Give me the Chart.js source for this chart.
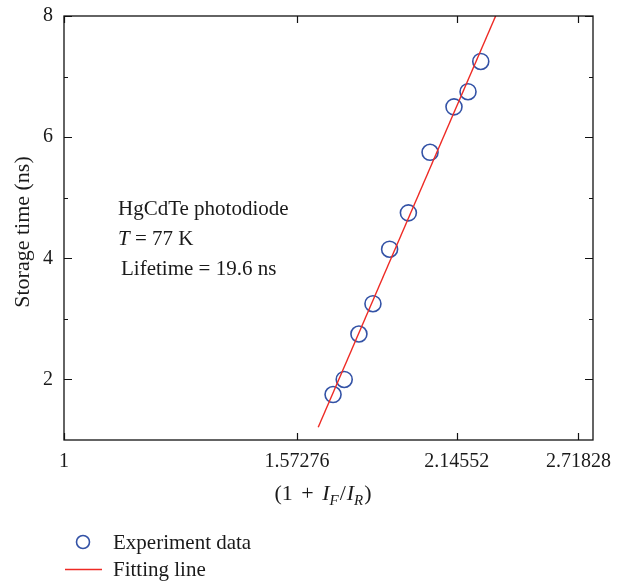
<!DOCTYPE html>
<html>
<head>
<meta charset="utf-8">
<script src="https://cdn.jsdelivr.net/npm/chart.js@4.4.1/dist/chart.umd.min.js"></script>
<style>
html,body{margin:0;padding:0;background:#fff;}
#wrap{width:626px;height:581px;position:relative;}
</style>
</head>
<body>
<div id="wrap"><canvas id="c" width="626" height="581"></canvas></div>
<script>
// ---- data ----
const expX = [1.687, 1.724, 1.774, 1.823, 1.883, 1.953, 2.037, 2.134, 2.193, 2.248];
const expY = [1.75, 2.0, 2.75, 3.25, 4.15, 4.75, 5.75, 6.5, 6.75, 7.25];
const fitX = [1.639, 2.314];
const fitY = [1.21, 8.0];
const xTicks = [1, 1.57276, 2.14552, 2.71828];
const xTickLabels = ['1', '1.57276', '2.14552', '2.71828'];
const yTicks = [2, 4, 6, 8];
const yMinorTicks = [3, 5, 7];
const annotationLines = ['HgCdTe photodiode', 'T = 77 K', 'Lifetime = 19.6 ns'];
const legendLabels = ['Experiment data', 'Fitting line'];

const SERIF = '"Liberation Serif", "DejaVu Serif", serif';
const BLUE = '#3352a6';
const RED = '#ee2a24';

const framePlugin = {
  id: 'frame',
  afterDatasetsDraw(chart) {
    const ctx = chart.ctx;
    const a = chart.chartArea;
    const xs = chart.scales.x, ys = chart.scales.y;
    ctx.save();
    ctx.strokeStyle = '#111';
    ctx.lineWidth = 1.3;
    ctx.strokeRect(a.left, a.top, a.right - a.left, a.bottom - a.top);
    ctx.lineWidth = 1.2;
    ctx.beginPath();
    xTicks.forEach(v => {
      const px = Math.round(xs.getPixelForValue(v)) + 0.5;
      ctx.moveTo(px, a.bottom); ctx.lineTo(px, a.bottom - 7);
      ctx.moveTo(px, a.top); ctx.lineTo(px, a.top + 7);
    });
    yTicks.forEach(v => {
      const py = Math.round(ys.getPixelForValue(v)) + 0.5;
      ctx.moveTo(a.left, py); ctx.lineTo(a.left + 8, py);
      ctx.moveTo(a.right, py); ctx.lineTo(a.right - 8, py);
    });
    yMinorTicks.forEach(v => {
      const py = Math.round(ys.getPixelForValue(v)) + 0.5;
      ctx.moveTo(a.left, py); ctx.lineTo(a.left + 4, py);
      ctx.moveTo(a.right, py); ctx.lineTo(a.right - 4, py);
    });
    ctx.stroke();
    ctx.restore();
  },
  afterDraw(chart) {
    const ctx = chart.ctx;
    ctx.save();
    ctx.fillStyle = '#1a1a1a';
    ctx.textBaseline = 'alphabetic';
    // y-axis title
    ctx.save();
    ctx.translate(29, 232);
    ctx.rotate(-Math.PI / 2);
    ctx.font = '22px ' + SERIF;
    ctx.textAlign = 'center';
    ctx.fillText('Storage time (ns)', 0, 0);
    ctx.restore();
    // x-axis title: (1 + I_F/I_R)
    const parts = [
      ['(1', '22px ' + SERIF, 0, 3],
      ['+', '22px ' + SERIF, 0, 3],
      ['I', 'italic 22px ' + SERIF, 0, 0],
      ['F', 'italic 15px ' + SERIF, 5, 1],
      ['/', '22px ' + SERIF, 0, 1],
      ['I', 'italic 22px ' + SERIF, 0, 0],
      ['R', 'italic 15px ' + SERIF, 5, 1],
      [')', '22px ' + SERIF, 0, 0]
    ];
    let total = 0;
    parts.forEach((p, i) => {
      ctx.font = p[1];
      total += ctx.measureText(p[0]).width + p[3] + (i < 2 ? ctx.measureText(' ').width : 0);
    });
    let x = 323 - total / 2;
    ctx.textAlign = 'left';
    parts.forEach((p, i) => {
      ctx.font = p[1];
      ctx.fillText(p[0], x, 500 + p[2]);
      x += ctx.measureText(p[0]).width + p[3] + (i < 2 ? ctx.measureText(' ').width : 0);
    });
    // annotation
    ctx.font = '21px ' + SERIF;
    ctx.fillText(annotationLines[0], 118, 215);
    ctx.font = 'italic 21px ' + SERIF;
    ctx.fillText('T', 118, 245);
    const tw = ctx.measureText('T').width;
    ctx.font = '21px ' + SERIF;
    ctx.fillText(annotationLines[1].slice(1), 118 + tw, 245);
    ctx.fillText(annotationLines[2], 121, 275);
    // legend
    const ds0 = chart.data.datasets[0], ds1 = chart.data.datasets[1];
    ctx.strokeStyle = ds0.borderColor;
    ctx.lineWidth = 1.6;
    ctx.beginPath();
    ctx.arc(83, 542, 6.5, 0, Math.PI * 2);
    ctx.stroke();
    ctx.strokeStyle = ds1.borderColor;
    ctx.lineWidth = 1.3;
    ctx.beginPath();
    ctx.moveTo(65, 569.5); ctx.lineTo(102, 569.5);
    ctx.stroke();
    ctx.fillStyle = '#1a1a1a';
    ctx.font = '21px ' + SERIF;
    ctx.fillText(legendLabels[0], 113, 549);
    ctx.fillText(legendLabels[1], 113, 576);
    ctx.restore();
  }
};

new Chart(document.getElementById('c'), {
  type: 'scatter',
  data: {
    datasets: [
      {
        label: legendLabels[0],
        data: expX.map((v, i) => ({ x: v, y: expY[i] })),
        pointStyle: 'circle',
        pointRadius: 8,
        pointBorderWidth: 1.6,
        borderColor: BLUE,
        backgroundColor: 'rgba(0,0,0,0)',
        pointBackgroundColor: 'rgba(0,0,0,0)',
        order: 2
      },
      {
        type: 'line',
        label: legendLabels[1],
        data: fitX.map((v, i) => ({ x: v, y: fitY[i] })),
        borderColor: RED,
        borderWidth: 1.4,
        pointRadius: 0,
        fill: false,
        showLine: true,
        order: 1
      }
    ]
  },
  options: {
    responsive: false,
    animation: false,
    devicePixelRatio: 1,
    layout: { padding: { top: 16, right: 33, left: 0, bottom: 0 } },
    plugins: { legend: { display: false }, tooltip: { enabled: false } },
    scales: {
      x: {
        type: 'logarithmic',
        min: 1,
        max: 2.796,
        afterBuildTicks: s => { s.ticks = xTicks.map(v => ({ value: v })); },
        afterFit: s => { s.height = 141; s.paddingLeft = 0; s.paddingRight = 0; },
        grid: { display: false, drawTicks: false },
        border: { display: false },
        ticks: {
          autoSkip: false, maxRotation: 0, minRotation: 0,
          padding: 10,
          color: '#1a1a1a',
          font: { family: SERIF, size: 20 },
          callback: (v, i) => xTickLabels[i]
        }
      },
      y: {
        type: 'linear',
        min: 1,
        max: 8,
        afterBuildTicks: s => { s.ticks = yTicks.map(v => ({ value: v })); },
        afterFit: s => { s.width = 64; s.paddingTop = 0; s.paddingBottom = 0; },
        grid: { display: false, drawTicks: false },
        border: { display: false },
        ticks: {
          padding: 11,
          color: '#1a1a1a',
          font: { family: SERIF, size: 20 },
          callback: v => String(v)
        }
      }
    }
  },
  plugins: [framePlugin]
});
</script>
</body>
</html>
